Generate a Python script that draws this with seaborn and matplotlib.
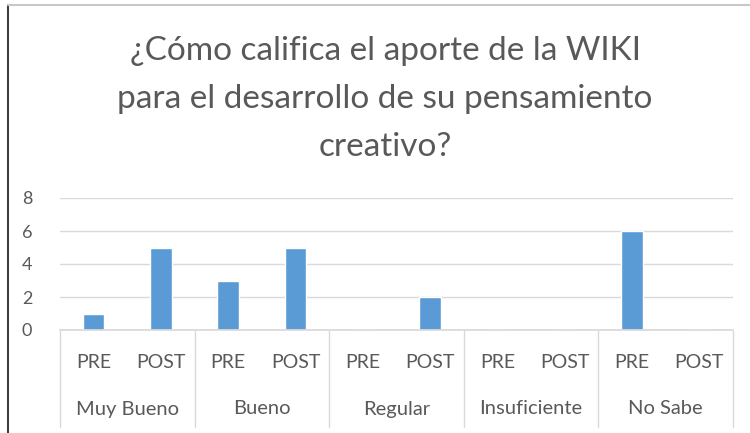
import matplotlib
matplotlib.use("Agg")
import matplotlib.pyplot as plt
import matplotlib.transforms as mtransforms
from matplotlib.lines import Line2D
import seaborn as sns
import pandas as pd

categories = ["Muy Bueno", "Bueno", "Regular", "Insuficiente", "No Sabe"]
periods = ["PRE", "POST"]
pre_values = [1, 3, 0, 0, 6]
post_values = [5, 5, 2, 0, 0]
y_ticks = [0, 2, 4, 6, 8]
title = "¿Cómo califica el aporte de la WIKI\npara el desarrollo de su pensamiento\ncreativo?"

rows = []
for c, pv, qv in zip(categories, pre_values, post_values):
    rows.append({"slot": f"{c}|PRE", "period": "PRE", "value": pv})
    rows.append({"slot": f"{c}|POST", "period": "POST", "value": qv})
df = pd.DataFrame(rows)
order = list(df["slot"])

sns.set_theme(style="white")
plt.rcParams["font.family"] = ["Lato", "DejaVu Sans"]

text_color = "#595959"
fig = plt.figure(figsize=(7.5, 4.33), dpi=100)
ax = fig.add_axes([60/750, 1-330/433, (733-60)/750, (330-198)/433])

sns.barplot(data=df, x="slot", y="value", order=order, color="#5B9BD5",
            width=0.32, saturation=1, ax=ax, errorbar=None)

ax.set_ylim(0, 8)
ax.set_yticks(y_ticks)
ax.set_yticklabels([str(t) for t in y_ticks], color=text_color, fontsize=13)
ax.set_xlim(-0.5, len(order) - 0.5)
ax.set_xticks(range(len(order)))
ax.set_xticklabels(list(df["period"]), color=text_color, fontsize=14)
ax.tick_params(axis="x", length=0, pad=17)
ax.tick_params(axis="y", length=0, pad=20)
ax.set_xlabel("")
ax.set_ylabel("")
ax.grid(axis="y", color="#D9D9D9", linewidth=1)
ax.set_axisbelow(True)
for s in ["top", "right", "left"]:
    ax.spines[s].set_visible(False)
ax.spines["bottom"].set_color("#D9D9D9")

trans = mtransforms.blended_transform_factory(ax.transData, fig.transFigure)
y_sep_top = 1 - 331/433
y_sep_bot = 1 - 427/433
for i in range(len(categories) + 1):
    xs = i * 2 - 0.5
    ax.add_line(Line2D([xs, xs], [y_sep_top, y_sep_bot], transform=trans,
                       color="#D9D9D9", linewidth=1, clip_on=False))
for i, c in enumerate(categories):
    ax.text(i * 2 + 0.5, 1 - 409/433, c, transform=trans, ha="center", va="center",
            color=text_color, fontsize=14.5)

fig.text(385/750, 1 - 99/433, title, ha="center", va="center", color=text_color,
         fontsize=24, linespacing=1.75)

fig.add_artist(Line2D([8/750, 8/750], [1 - 5/433, 0], transform=fig.transFigure,
                      color="#404040", linewidth=1.5))
fig.add_artist(Line2D([8/750, 1], [1 - 5/433, 1 - 5/433], transform=fig.transFigure,
                      color="#C8C8C8", linewidth=1.5))

fig.savefig("out.png", dpi=100)
